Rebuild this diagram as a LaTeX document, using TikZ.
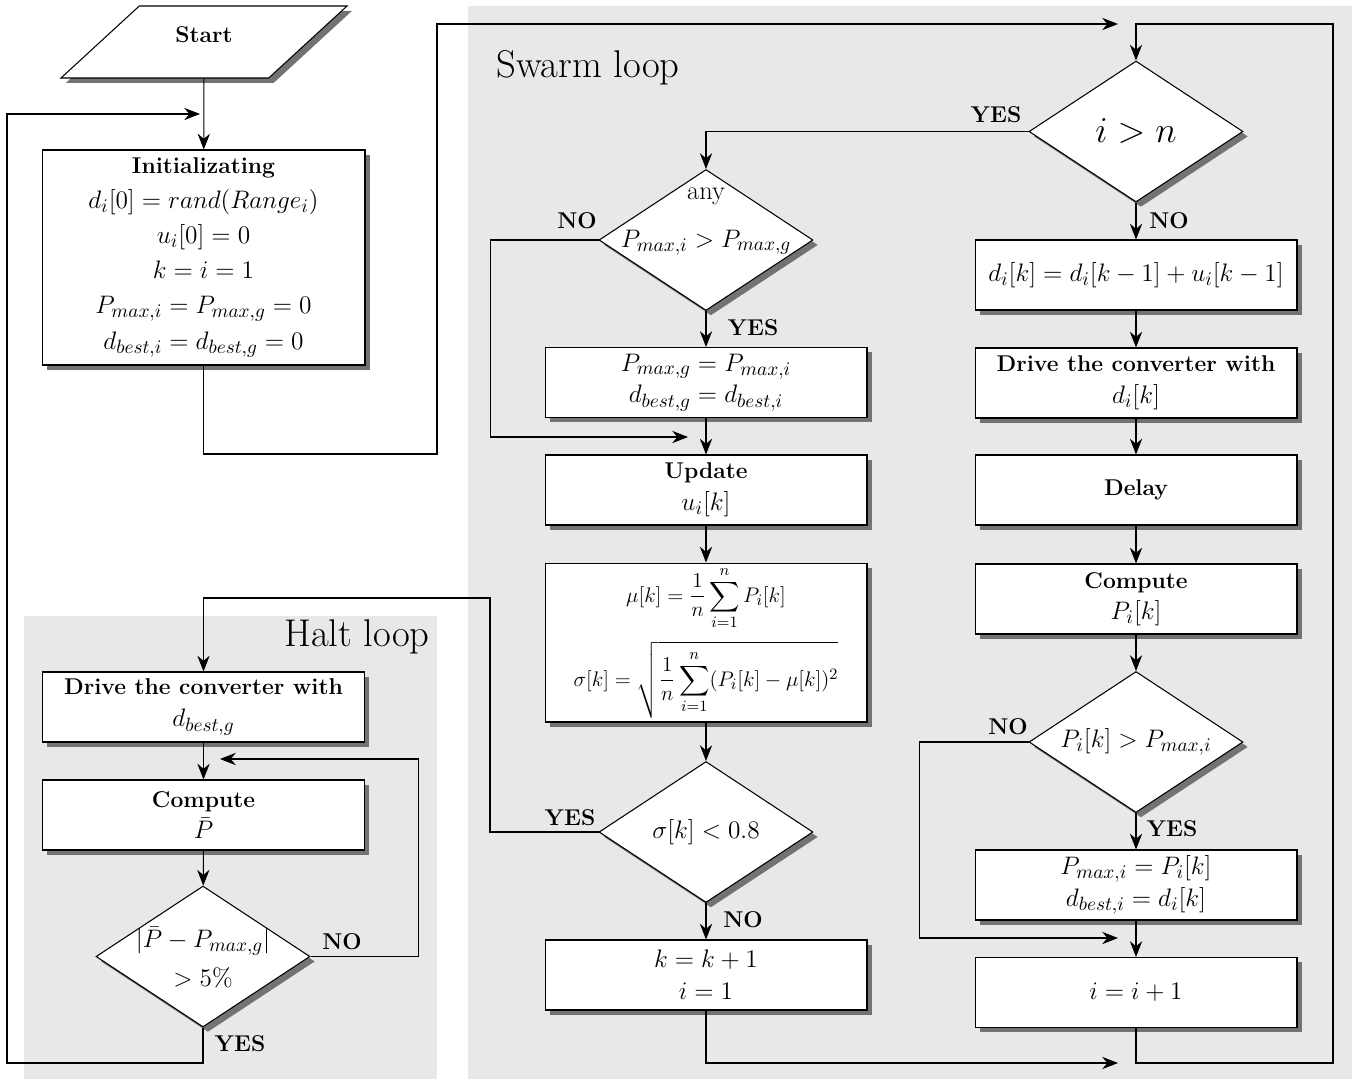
\documentclass[tikz,border=0pt]{standalone}
\usepackage{amsmath}
\usetikzlibrary{shapes.geometric,arrows.meta,shadows}

\newcommand{\tagfont}{\fontsize{13}{16}\selectfont\bfseries}
\newcommand{\eqfont}{\fontsize{15}{18}\selectfont}

\tikzset{
  boxshadow/.style={drop shadow={shadow xshift=2.8pt, shadow yshift=-2.8pt, fill=black!55, opacity=1}},
  block/.style={draw, fill=white, boxshadow, minimum width=6.44cm, minimum height=1.4cm,
    align=center, font=\eqfont, inner sep=2pt},
  decision/.style={draw, fill=white, diamond, shape aspect=1.52, boxshadow, minimum width=4.28cm,
    minimum height=2.82cm, align=center, font=\eqfont, inner sep=0pt},
  answer/.style={font=\tagfont},
  looptitle/.style={font=\fontsize{22}{26}\selectfont},
  flow/.style={-{Stealth[length=9pt,width=7pt]}},
}

\begin{document}
\begin{tikzpicture}[x=0.02cm, y=-0.02cm, semithick]
\useasboundingbox (0,0) rectangle (1365,1079);
%
\fill[black!9] (468,6) rectangle (1352,1079);
\fill[black!9] (24,616) rectangle (437,1079);
\node[looptitle] (swarmtitle) at (588,68) {Swarm loop};
\node[looptitle] (halttitle) at (357,637) {Halt loop};
%
\node[draw, fill=white, boxshadow, trapezium, trapezium left angle=45, trapezium right angle=135,
  trapezium stretches=true, minimum width=5.74cm, minimum height=1.44cm, font=\tagfont, text depth=8pt]
  (start) at (204,42) {Start};
\node[block, minimum width=6.46cm, minimum height=4.3cm] (init) at (203.5,257.5)
  {{\tagfont Initializating}\\[2pt] $d_i[0]=rand(Range_i)$\\[2pt] $u_i[0]=0$\\[2pt] $k=i=1$\\[2pt]
   $P_{max,i}=P_{max,g}=0$\\[2pt] $d_{best,i}=d_{best,g}=0$};
%
% swarm loop, left column
\node[decision] (anytest) at (706,240)
  {\smash{\raisebox{-4pt}{\begin{tabular}[b]{@{}c@{}}any\\[9pt] $P_{max,i}>P_{max,g}$\end{tabular}}}};
\node[block] (gupd) at (706,382.5) {$P_{max,g}=P_{max,i}$\\ $d_{best,g}=d_{best,i}$};
\node[block] (update) at (706,490) {{\tagfont Update}\\ $u_i[k]$};
\node[block, minimum height=3.18cm, font=\fontsize{12.5}{15}\selectfont] (stats) at (706,642.5)
  {$\displaystyle\mu[k]=\frac{1}{n}\sum_{i=1}^{n}P_i[k]$\\[0.2cm]
   $\displaystyle\sigma[k]=\sqrt{\frac{1}{n}\sum_{i=1}^{n}(P_i[k]-\mu[k])^2}$};
\node[decision] (stest) at (706,832) {$\sigma[k]<0.8$};
\node[block] (kinc) at (706,975) {$k=k+1$\\ $i=1$};
%
% swarm loop, right column
\node[decision, font=\fontsize{22.5}{27}\selectfont] (itest) at (1136,131.5) {$i>n$};
\node[block] (dupd) at (1136,275) {$d_i[k]=d_i[k-1]+u_i[k-1]$};
\node[block] (drive) at (1136,383) {{\tagfont Drive the converter with}\\ $d_i[k]$};
\node[block] (delay) at (1136,490) {{\tagfont Delay}};
\node[block] (comp) at (1136,599) {{\tagfont Compute}\\ $P_i[k]$};
\node[decision] (ptest) at (1136,742) {$P_i[k]>P_{max,i}$};
\node[block] (iupd) at (1136,885) {$P_{max,i}=P_i[k]$\\ $d_{best,i}=d_i[k]$};
\node[block] (incr) at (1136,992.5) {$i=i+1$};
%
% halt loop
\node[block] (hdrive) at (203.5,707) {{\tagfont Drive the converter with}\\ $d_{best,g}$};
\node[block] (hcomp) at (203.5,815) {{\tagfont Compute}\\ $\bar{P}$};
\node[decision] (hcheck) at (203,956.5)
  {\smash{\raisebox{-6pt}{\begin{tabular}{@{}c@{}}$|\bar{P}-P_{max,g}|$\\[4pt] $>5\%$\end{tabular}}}};
%
% answers
\node[answer] (yesI) at (996,115) {YES};
\node[answer] (noI) at (1169,221) {NO};
\node[answer] (noA) at (577,221) {NO};
\node[answer] (yesA) at (753,328) {YES};
\node[answer] (yesS) at (570,818) {YES};
\node[answer] (noS) at (743,920) {NO};
\node[answer] (noP) at (1008,727) {NO};
\node[answer] (yesP) at (1172,829) {YES};
\node[answer] (noH) at (342,942) {NO};
\node[answer] (yesH) at (240,1044) {YES};
%
% joints
\coordinate (backL) at (7,1063);
\coordinate (backT) at (200,114);
\coordinate (jumpA) at (437,454);
\coordinate (entry) at (1118,24);
\coordinate (loopR) at (1333,1063);
\coordinate (loopT) at (1333,24);
\coordinate (exitK) at (1118,1063);
\coordinate (skipG) at (688,437);
\coordinate (skipI) at (1118,938);
\coordinate (haltIn) at (490,598);
\coordinate (retry) at (220,759);
%
\draw[flow] (start) -- (init);
\draw[flow] (init) |- (jumpA) |- (entry);
\draw[flow] (hcheck) |- (backL) |- (backT);
%
\draw[flow] (itest) -| (anytest);
\draw[flow] (anytest) -- (gupd);
\draw[flow] (anytest.west) -- ++(-108,0) |- (skipG);
\draw[flow] (gupd) -- (update);
\draw[flow] (update) -- (stats);
\draw[flow] (stats) -- (stest);
\draw[flow] (stest) -- (kinc);
\draw[flow] (stest.west) -| (haltIn) -| (hdrive);
\draw[flow] (kinc) |- (exitK);
%
\draw[flow] (itest) -- (dupd);
\draw[flow] (dupd) -- (drive);
\draw[flow] (drive) -- (delay);
\draw[flow] (delay) -- (comp);
\draw[flow] (comp) -- (ptest);
\draw[flow] (ptest) -- (iupd);
\draw[flow] (ptest.west) -- ++(-109,0) |- (skipI);
\draw[flow] (iupd) -- (incr);
\draw[flow] (incr) |- (loopR) -- (loopT) -| (itest);
%
\draw[flow] (hdrive) -- (hcomp);
\draw[flow] (hcomp) -- (hcheck);
\draw[flow] (hcheck.east) -- ++(108,0) |- (retry);
\end{tikzpicture}
\end{document}
